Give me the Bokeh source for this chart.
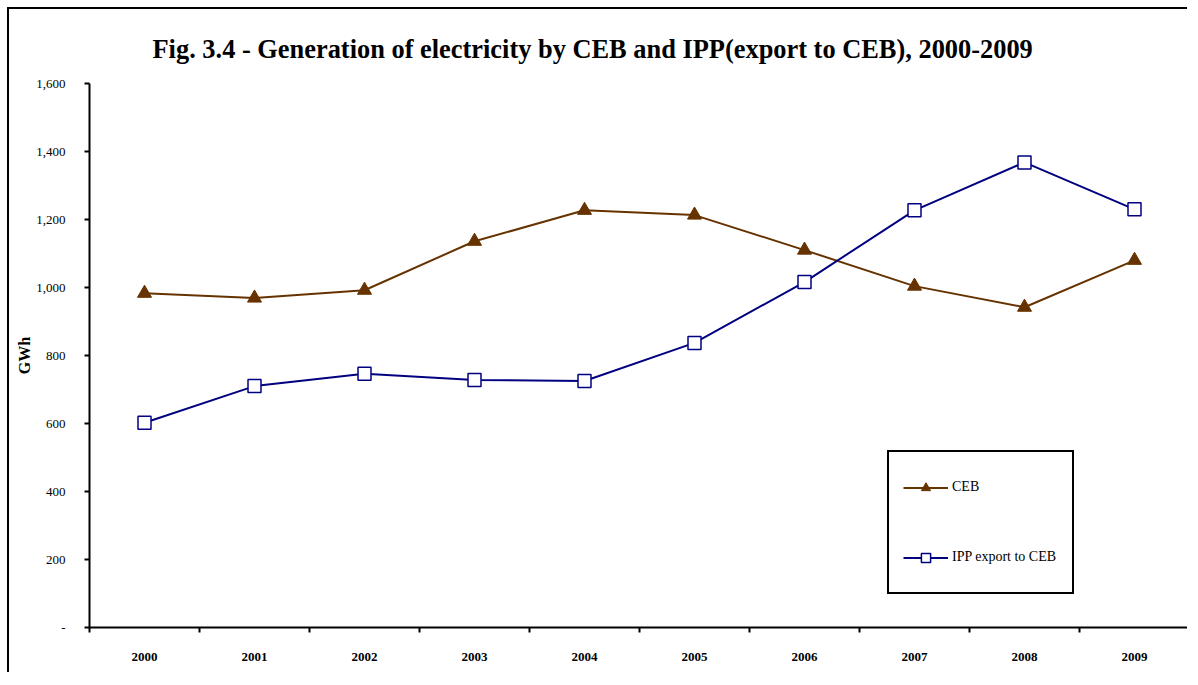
from bokeh.plotting import figure
from bokeh.models import FixedTicker, NumeralTickFormatter, Legend, LegendItem, Range1d
from bokeh.embed import file_html
from bokeh.resources import INLINE

years = ["2000", "2001", "2002", "2003", "2004", "2005", "2006", "2007", "2008", "2009"]
ceb = [983, 969, 992, 1136, 1227, 1213, 1110, 1004, 942, 1080]
ipp = [602, 710, 746, 728, 725, 837, 1016, 1227, 1368, 1230]
y_ticks = [0, 200, 400, 600, 800, 1000, 1200, 1400, 1600]

SERIF = "Liberation Serif"
BROWN = "#663300"
NAVY = "#000080"

x = [i + 0.5 for i in range(len(years))]

p = figure(width=1180, height=665, output_backend="svg", toolbar_location=None,
           x_range=Range1d(0, len(years)), y_range=Range1d(0, 1600),
           min_border_left=80, min_border_right=0, min_border_top=74, min_border_bottom=47)
p.styles = {"border-left": "2px solid black", "border-top": "2px solid black",
            "margin-left": "7px", "margin-top": "7px"}
p.outline_line_color = None
p.xgrid.visible = False
p.ygrid.visible = False

p.title.text = "Fig. 3.4 - Generation of electricity by CEB and IPP(export to CEB), 2000-2009"
p.title.text_font = SERIF
p.title.text_font_size = "26.4px"
p.title.text_font_style = "bold"
p.title.text_color = "black"
p.title.align = "left"
p.title.offset = 63
p.title.standoff = 40

# y axis
p.yaxis.ticker = FixedTicker(ticks=y_ticks)
p.yaxis.formatter = NumeralTickFormatter(format="0,0")
p.yaxis.major_label_overrides = {0: "-"}
p.yaxis.major_tick_out = 5
p.yaxis.major_tick_in = 0
p.yaxis.minor_tick_line_color = None
p.yaxis.axis_line_width = 2
p.yaxis.major_tick_line_width = 2
p.yaxis.major_label_text_font = SERIF
p.yaxis.major_label_text_font_size = "13px"
p.yaxis.major_label_text_color = "black"
p.yaxis.major_label_standoff = 19
p.yaxis.axis_label = "GWh"
p.yaxis.axis_label_text_font = SERIF
p.yaxis.axis_label_text_font_size = "16px"
p.yaxis.axis_label_text_font_style = "bold"
p.yaxis.axis_label_text_color = "black"
p.yaxis.axis_label_standoff = 0

# x axis
p.xaxis.ticker = FixedTicker(ticks=x, minor_ticks=list(range(len(years) + 1)))
p.xaxis.major_label_overrides = {xi: yr for xi, yr in zip(x, years)}
p.xaxis.major_tick_out = 0
p.xaxis.major_tick_in = 0
p.xaxis.major_tick_line_color = None
p.xaxis.minor_tick_out = 5
p.xaxis.minor_tick_in = 0
p.xaxis.minor_tick_line_width = 2
p.xaxis.minor_tick_line_color = "black"
p.xaxis.axis_line_width = 2
p.xaxis.major_label_text_font = SERIF
p.xaxis.major_label_text_font_size = "13px"
p.xaxis.major_label_text_font_style = "bold"
p.xaxis.major_label_text_color = "black"
p.xaxis.major_label_standoff = 20

l1 = p.line(x, ceb, line_color=BROWN, line_width=2)
s1 = p.scatter(x, ceb, marker="triangle", size=14, fill_color=BROWN, line_color=BROWN)
l2 = p.line(x, ipp, line_color=NAVY, line_width=2)
s2 = p.scatter(x, ipp, marker="square", size=13, fill_color="white", line_color=NAVY, line_width=1.5)

legend = Legend(items=[LegendItem(label="CEB", renderers=[l1, s1]),
                       LegendItem(label="IPP export to CEB", renderers=[l2, s2])],
                location=(798, 33), orientation="vertical",
                glyph_width=45, glyph_height=23, label_height=42, label_standoff=4, label_width=106,
                spacing=28, padding=14, margin=0,
                border_line_color="black", border_line_width=2, border_line_alpha=1,
                background_fill_color="white", background_fill_alpha=1,
                label_text_font=SERIF, label_text_font_size="14px", label_text_color="black")
p.add_layout(legend, "center")

open("out.html", "w").write(file_html(p, INLINE))
